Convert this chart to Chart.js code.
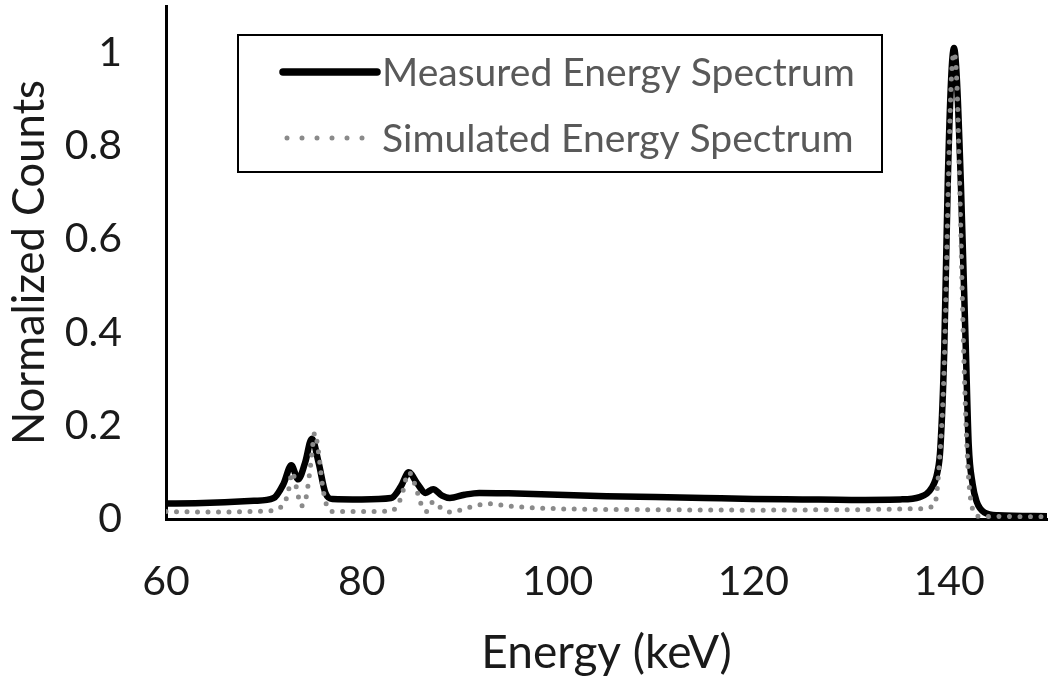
<!DOCTYPE html>
<html>
<head>
<meta charset="utf-8">
<script src="https://cdn.jsdelivr.net/npm/chart.js@4/dist/chart.umd.min.js"></script>
<style>
  html, body { margin: 0; padding: 0; background: #ffffff; }
  #wrap { width: 1050px; height: 677px; }
</style>
</head>
<body>
<div id="wrap"><canvas id="c" width="1050" height="677"></canvas></div>
<script>
// ---- data ----
const measuredEnergy = [60, 63, 66, 69, 71, 72, 72.8, 73.5, 74.2, 74.9, 75.6, 76.3, 77, 80, 83, 84, 84.8, 85.7, 86.5, 87.3, 88.2, 89, 90.5, 92, 95, 100, 105, 110, 115, 120, 125, 130, 135, 137, 138.2, 138.8, 139.1, 139.5, 139.86, 140.2, 140.5, 140.8, 141.2, 141.7, 142.0, 142.4, 142.8, 143.6, 145, 150];
const measuredCounts = [0.033, 0.034, 0.036, 0.039, 0.045, 0.075, 0.115, 0.085, 0.12, 0.172, 0.12, 0.055, 0.043, 0.042, 0.045, 0.07, 0.1, 0.075, 0.056, 0.064, 0.05, 0.045, 0.052, 0.056, 0.055, 0.052, 0.049, 0.047, 0.045, 0.043, 0.042, 0.041, 0.042, 0.047, 0.066, 0.1, 0.15, 0.36, 0.72, 0.94, 1.01, 0.94, 0.72, 0.37, 0.16, 0.075, 0.038, 0.014, 0.008, 0.006];

const simulatedEnergy = [60, 65, 70, 72, 72.5, 72.9, 73.4, 73.8, 74.3, 74.8, 75.2, 75.6, 76, 76.4, 77, 80, 83, 84, 84.8, 85.5, 86, 86.6, 87.3, 88, 89, 91, 93, 95, 100, 110, 120, 130, 137, 138.5, 139, 139.5, 139.9, 140.2, 140.5, 140.8, 141.1, 141.5, 141.9, 142.3, 143, 150];
const simulatedCounts = [0.016, 0.015, 0.017, 0.03, 0.06, 0.1, 0.06, 0.028, 0.045, 0.12, 0.185, 0.14, 0.07, 0.03, 0.016, 0.016, 0.017, 0.045, 0.1, 0.07, 0.035, 0.016, 0.037, 0.025, 0.015, 0.025, 0.033, 0.028, 0.022, 0.02, 0.019, 0.02, 0.022, 0.03, 0.12, 0.33, 0.7, 0.93, 1.0, 0.93, 0.7, 0.35, 0.12, 0.03, 0.006, 0.005];

const seriesLabels = ['Measured Energy Spectrum', 'Simulated Energy Spectrum'];
const xTitle = 'Energy (keV)';
const yTitle = 'Normalized Counts';
const xMin = 60, xMax = 150, xStep = 20;
const yMin = 0, yMax = 1.1, yStep = 0.2;

const toPoints = (xs, ys) => xs.map((x, i) => ({ x: x, y: ys[i] }));

const FONT = 'Lato, "Open Sans", "DejaVu Sans", sans-serif';

const legendPlugin = {
  id: 'boxLegend',
  afterDraw(chart) {
    const ctx = chart.ctx;
    const box = { x: 238, y: 35, w: 644, h: 137 };
    ctx.save();
    ctx.lineWidth = 2;
    ctx.strokeStyle = '#000000';
    ctx.strokeRect(box.x, box.y, box.w, box.h);
    // fit font size to reference text width
    ctx.font = '40px ' + FONT;
    const w0 = ctx.measureText(chart.data.datasets[1].label).width;
    const fs = 40 * 473 / w0;
    ctx.font = fs.toFixed(2) + 'px ' + FONT;
    ctx.textBaseline = 'middle';
    ctx.textAlign = 'left';
    const rows = [72, 138];
    const order = [1, 0]; // measured first, simulated second
    order.forEach((di, r) => {
      const ds = chart.data.datasets[di];
      const y = rows[r];
      ctx.save();
      ctx.beginPath();
      ctx.lineWidth = ds.borderWidth + (di === 1 ? 1 : 0);
      ctx.strokeStyle = ds.borderColor;
      ctx.lineCap = 'round';
      ctx.setLineDash(di === 0 ? [0, 15] : []);
      ctx.moveTo(di === 0 ? 287 : 283, y);
      ctx.lineTo(di === 0 ? 377 : 377, y);
      ctx.stroke();
      ctx.restore();
      ctx.fillStyle = '#595959';
      ctx.fillText(ds.label, 382, y + 1);
    });
    ctx.restore();
  }
};

new Chart(document.getElementById('c'), {
  type: 'line',
  data: {
    datasets: [
      {
        label: seriesLabels[1],
        data: toPoints(simulatedEnergy, simulatedCounts),
        borderColor: '#8a8a8a',
        borderWidth: 5,
        borderDash: [0, 10.5],
        borderCapStyle: 'round',
        pointRadius: 0,
        cubicInterpolationMode: 'monotone',
        fill: false,
        order: 0
      },
      {
        label: seriesLabels[0],
        data: toPoints(measuredEnergy, measuredCounts),
        borderColor: '#000000',
        borderWidth: 6.5,
        borderCapStyle: 'round',
        borderJoinStyle: 'round',
        pointRadius: 0,
        cubicInterpolationMode: 'monotone',
        fill: false,
        order: 1
      }
    ]
  },
  options: {
    responsive: false,
    animation: false,
    events: [],
    layout: { padding: { top: 6, right: 3, left: 0, bottom: 0 } },
    plugins: { legend: { display: false }, tooltip: { enabled: false } },
    scales: {
      x: {
        type: 'linear',
        min: xMin, max: xMax,
        grid: { display: false, drawTicks: false },
        border: { display: true, color: '#000000', width: 3 },
        ticks: {
          stepSize: xStep, includeBounds: false, maxRotation: 0, autoSkip: false,
          padding: 38, color: '#1a1a1a',
          font: { family: FONT, size: 41 }
        },
        title: {
          display: true, text: xTitle, color: '#1a1a1a',
          font: { family: FONT, size: 46 }, padding: { top: 0, bottom: -4 }
        },
        afterFit(scale) {
          scale.height = 158;
          scale.paddingLeft = 0; scale.paddingRight = 0;
        }
      },
      y: {
        type: 'linear',
        min: yMin, max: yMax,
        grid: { display: false, drawTicks: false },
        border: { display: true, color: '#000000', width: 3 },
        ticks: {
          stepSize: yStep, includeBounds: false,
          padding: 44, color: '#1a1a1a',
          font: { family: FONT, size: 41 },
          callback: (v) => String(Math.round(v * 10) / 10)
        },
        title: {
          display: true, text: yTitle, color: '#1a1a1a',
          font: { family: FONT, size: 43.5 }, padding: { top: 4, bottom: 0 }
        },
        afterFit(scale) {
          scale.width = 166;
          scale.paddingTop = 0; scale.paddingBottom = 0;
        }
      }
    }
  },
  plugins: [legendPlugin]
});
</script>
</body>
</html>
